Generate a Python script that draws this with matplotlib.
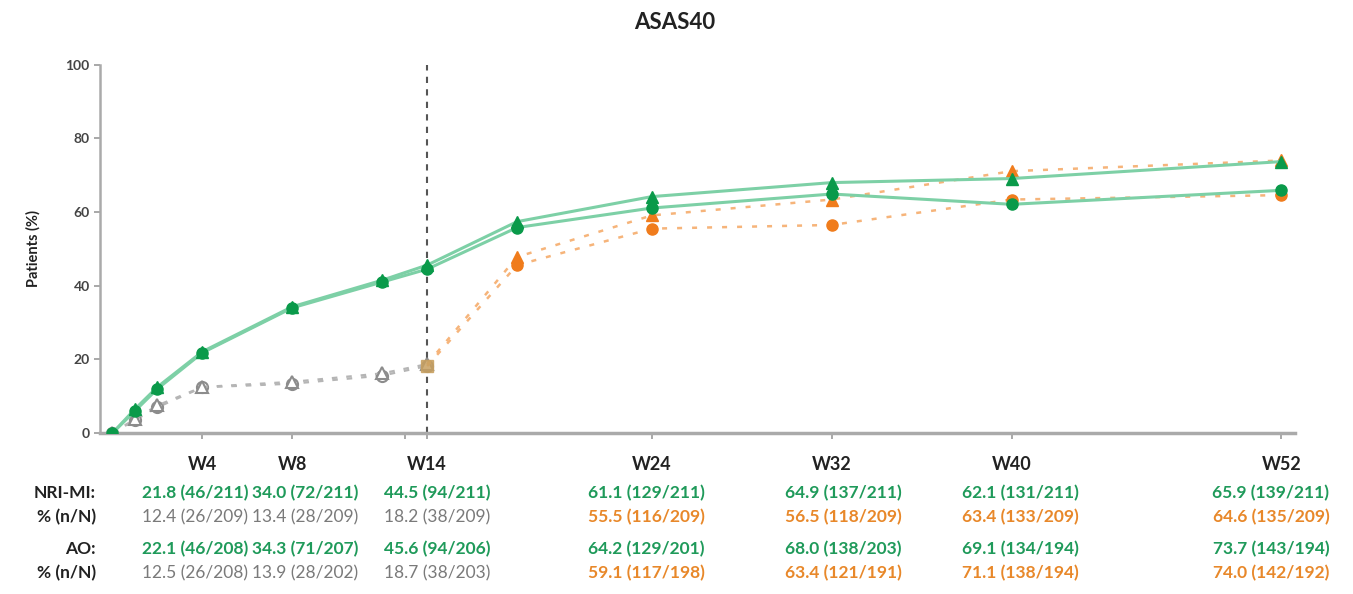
import matplotlib
matplotlib.use("Agg")
import matplotlib.pyplot as plt
import matplotlib.transforms as mtransforms

plt.rcParams["font.family"] = ["Lato", "DejaVu Sans"]

# semanas de visita
weeks = [0, 1, 2, 4, 8, 12, 14, 18, 24, 32, 40, 52]
weeks_pbo = [0, 1, 2, 4, 8, 12, 14]
weeks_switch = [14, 18, 24, 32, 40, 52]

# brazo activo (verde)
nri_active = [0, 6.0, 12.0, 21.8, 34.0, 41.0, 44.5, 55.8, 61.1, 64.9, 62.1, 65.9]
ao_active = [0, 6.5, 12.5, 22.1, 34.3, 41.5, 45.6, 57.4, 64.2, 68.0, 69.1, 73.7]

# placebo hasta W14 (gris)
nri_pbo = [0, 3.5, 7.0, 12.4, 13.4, 15.6, 18.2]
ao_pbo = [0, 3.8, 7.5, 12.5, 13.9, 16.2, 18.7]

# placebo -> activo desde W14 (naranja)
nri_switch = [18.2, 45.6, 55.5, 56.5, 63.4, 64.6]
ao_switch = [18.7, 47.8, 59.1, 63.4, 71.1, 74.0]

# tabla inferior
tab_weeks = [4, 8, 14, 24, 32, 40, 52]
tab_labels = ["W4", "W8", "W14", "W24", "W32", "W40", "W52"]
nri_act_txt = ["21.8 (46/211)", "34.0 (72/211)", "44.5 (94/211)", "61.1 (129/211)",
               "64.9 (137/211)", "62.1 (131/211)", "65.9 (139/211)"]
nri_pbo_txt = ["12.4 (26/209)", "13.4 (28/209)", "18.2 (38/209)", "55.5 (116/209)",
               "56.5 (118/209)", "63.4 (133/209)", "64.6 (135/209)"]
ao_act_txt = ["22.1 (46/208)", "34.3 (71/207)", "45.6 (94/206)", "64.2 (129/201)",
              "68.0 (138/203)", "69.1 (134/194)", "73.7 (143/194)"]
ao_pbo_txt = ["12.5 (26/208)", "13.9 (28/202)", "18.7 (38/203)", "59.1 (117/198)",
              "63.4 (121/191)", "71.1 (138/194)", "74.0 (142/192)"]

# centro de cada columna de la tabla (px de la figura)
col_px = [195, 305, 437, 646, 843, 1020, 1271]

GREEN = "#0a9a4a"
GREEN_L = "#7dd0a6"
GRAY = "#8c8c8c"
ORANGE = "#f07c1c"
ORANGE_L = "#f6b47a"
TXT_GREEN = "#1f9a5a"
TXT_GRAY = "#7a7a7a"
TXT_ORANGE = "#e8882a"
FS = 12.5

W, H = 1353, 594
fig = plt.figure(figsize=(W / 100, H / 100), dpi=100)
ax = fig.add_axes([0.074, 0.271, 0.883, 0.620])

# placebo gris
ax.plot(weeks_pbo, nri_pbo, ls=(0, (2.5, 4)), lw=1.6, color="#b5b5b5", zorder=2,
        marker="o", ms=8, mfc="white", mec=GRAY, mew=1.5)
ax.plot(weeks_pbo, ao_pbo, ls=(0, (2.5, 4)), lw=1.6, color="#b5b5b5", zorder=2,
        marker="^", ms=8, mfc="white", mec=GRAY, mew=1.5)

# switch naranja
ax.plot(weeks_switch, nri_switch, ls=(0, (2, 4)), lw=1.8, color=ORANGE_L, zorder=3)
ax.plot(weeks_switch[1:], nri_switch[1:], ls="none", marker="o", ms=8, color=ORANGE, zorder=4)
ax.plot(weeks_switch, ao_switch, ls=(0, (2, 4)), lw=1.8, color=ORANGE_L, zorder=3)
ax.plot(weeks_switch[1:], ao_switch[1:], ls="none", marker="^", ms=8, color=ORANGE, zorder=4)
ax.plot(weeks_switch[:1], nri_switch[:1], ls="none", marker="s", ms=9,
        color="#c8a060", alpha=0.85, zorder=4)

# activo verde
ax.plot(weeks, nri_active, lw=2.2, color=GREEN_L, zorder=5)
ax.plot(weeks, nri_active, ls="none", marker="o", ms=8, color=GREEN, zorder=6)
ax.plot(weeks, ao_active, lw=2.2, color=GREEN_L, zorder=5)
ax.plot(weeks, ao_active, ls="none", marker="^", ms=8, color=GREEN, zorder=6)

ax.axvline(14, color="#555555", ls=(0, (3, 3)), lw=1.5, zorder=1)

ax.set_xlim(-0.55, 52.6)
ax.set_ylim(0, 100)
ax.set_yticks([0, 20, 40, 60, 80, 100])
ax.set_xticks([4, 8, 13, 14, 24, 32, 40, 52])
ax.set_xticklabels([])
ax.tick_params(axis="both", colors="#999999", length=4, width=1.2)
ax.tick_params(axis="y", labelcolor="#444444", labelsize=10)
for lb in ax.get_yticklabels():
    lb.set_fontweight("bold")
for s in ["top", "right"]:
    ax.spines[s].set_visible(False)
ax.spines["left"].set_color("#aaaaaa")
ax.spines["left"].set_linewidth(1.8)
ax.spines["bottom"].set_color("#aaaaaa")
ax.spines["bottom"].set_linewidth(2.5)
ax.set_ylabel("Patients (%)", fontsize=10.5, fontweight="bold", color="#222222", labelpad=18)

fig.text(0.499, 0.962, "ASAS40", ha="center", va="center", fontsize=16,
         fontweight="bold", color="#222222")

# tabla bajo el eje
tr = mtransforms.blended_transform_factory(ax.transData, fig.transFigure)
rows_y = [1 - 464 / H, 1 - 493 / H, 1 - 517 / H, 1 - 549 / H, 1 - 573 / H]
for i, w in enumerate(tab_weeks):
    late = w > 14
    cx = col_px[i] / W
    ax.text(w, rows_y[0], tab_labels[i], transform=tr, ha="center", va="center",
            fontsize=13, fontweight="bold", color="#222222")
    fig.text(cx, rows_y[1], nri_act_txt[i], ha="center", va="center",
             fontsize=FS, fontweight="bold", color=TXT_GREEN)
    fig.text(cx, rows_y[2], nri_pbo_txt[i], ha="center", va="center",
             fontsize=FS, fontweight="bold" if late else "normal",
             color=TXT_ORANGE if late else TXT_GRAY)
    fig.text(cx, rows_y[3], ao_act_txt[i], ha="center", va="center",
             fontsize=FS, fontweight="bold", color=TXT_GREEN)
    fig.text(cx, rows_y[4], ao_pbo_txt[i], ha="center", va="center",
             fontsize=FS, fontweight="bold" if late else "normal",
             color=TXT_ORANGE if late else TXT_GRAY)

for y, lab in zip(rows_y[1:], ["NRI-MI:", "% (n/N)", "AO:", "% (n/N)"]):
    fig.text(96 / W, y, lab, ha="right", va="center", fontsize=FS,
             fontweight="bold", color="#222222")

fig.savefig("out.png", dpi=100)
